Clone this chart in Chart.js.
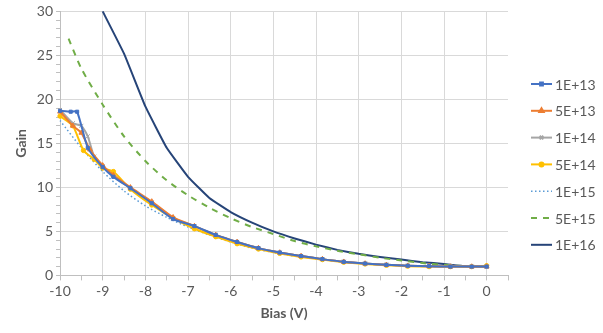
<!DOCTYPE html>
<html><head><meta charset="utf-8">
<script src="https://cdn.jsdelivr.net/npm/chart.js@4.4.0/dist/chart.umd.min.js"></script>
<style>html,body{margin:0;padding:0;background:#fff}#wrap{width:603px;height:333px}</style>
</head><body><div id="wrap"><canvas id="c" width="603" height="333"></canvas></div>
<script>
// Series labels
const seriesNames = ["1E+13","5E+13","1E+14","5E+14","1E+15","5E+15","1E+16"];
// Bias (V) samples and gain values per series
const bias13 = [-10,-9.75,-9.6,-9.35,-9,-8.75,-8.35,-7.85,-7.35,-6.85,-6.35,-5.85,-5.35,-4.85,-4.35,-3.85,-3.35,-2.85,-2.35,-1.85,-1.35,-0.85,-0.35,0];
const gain13 = [18.7,18.6,18.6,14.5,12.3,11.2,9.9,8.2,6.4,5.6,4.6,3.8,3.1,2.6,2.2,1.85,1.55,1.35,1.2,1.1,1.05,1.0,1.0,1.0];
const bias5e13 = [-10,-9.7,-9.5,-9.3,-9,-8.75,-8.35,-7.85,-7.35,-6.85,-6.35,-5.85,-5.35,-4.85,-4.35,-3.85,-3.35,-2.85,-2.35,-1.85,-1.35,-0.85,-0.35,0];
const gain5e13 = [18.6,17.0,16.2,14.3,12.5,11.4,10.0,8.4,6.6,5.6,4.6,3.8,3.1,2.6,2.2,1.85,1.55,1.35,1.2,1.1,1.05,1.0,1.0,1.0];
const bias14 = [-10,-9.7,-9.5,-9.35,-9.2,-9,-8.75,-8.35,-7.85,-7.35,-6.85,-6.35,-5.85,-5.35,-4.85,-4.35,-3.85,-3.35,-2.85,-2.35,-1.85,-1.35,-0.85,-0.35,0];
const gain14 = [18.8,17.3,17.0,15.8,13.5,12.4,11.3,9.9,8.3,6.5,5.6,4.6,3.8,3.1,2.6,2.2,1.85,1.55,1.35,1.2,1.1,1.05,1.0,1.0,1.0];
const bias5e14 = [-10,-9.7,-9.45,-9.2,-9,-8.75,-8.35,-7.85,-7.35,-6.85,-6.35,-5.85,-5.35,-4.85,-4.35,-3.85,-3.35,-2.85,-2.35,-1.85,-1.35,-0.85,-0.35,0];
const gain5e14 = [18.1,17.0,14.2,13.2,12.2,11.8,9.8,8.0,6.5,5.3,4.4,3.6,3.0,2.5,2.1,1.8,1.5,1.3,1.15,1.05,1.0,1.0,1.0,1.1];
const bias15 = [-10,-9.5,-9,-8.5,-8,-7.5,-7,-6.5,-6,-5.5,-5,-4.5,-4,-3.5,-3,-2.5,-2,-1.5,-1,-0.5,0];
const gain15 = [17.6,14.5,11.8,9.6,7.9,6.6,5.5,4.6,3.8,3.1,2.6,2.2,1.9,1.6,1.4,1.25,1.15,1.05,1.0,1.0,1.0];
const bias5e15 = [-9.8,-9.5,-9,-8.5,-8,-7.5,-7,-6.5,-6,-5.5,-5,-4.5,-4,-3.5,-3,-2.5,-2,-1.5,-1,-0.5,0];
const gain5e15 = [26.9,23.5,19.4,15.8,13.0,10.8,9.1,7.7,6.5,5.5,4.7,3.9,3.3,2.8,2.4,2.0,1.7,1.4,1.2,1.05,1.0];
const bias16 = [-9,-8.5,-8,-7.5,-7,-6.5,-6,-5.5,-5,-4.5,-4,-3.5,-3,-2.5,-2,-1.5,-1,-0.5,0];
const gain16 = [30,25.2,19.2,14.5,11.2,8.8,7.2,6.0,5.0,4.2,3.5,2.9,2.45,2.1,1.8,1.5,1.3,1.05,1.0];
// Axis tick labels
const xTickLabels = [-10,-9,-8,-7,-6,-5,-4,-3,-2,-1,0];
const yTickLabels = [0,5,10,15,20,25,30];

const pts = (xs, ys) => xs.map((x,i)=>({x:x,y:ys[i]}));
const FONT = "Lato, 'Open Sans', sans-serif";
const styles = [
  {c:'#4472C4', ps:'rect', r:2.2, dash:[], w:2, t:0.2},
  {c:'#ED7D31', ps:'triangle', r:2.8, dash:[], w:2, t:0.2},
  {c:'#A5A5A5', ps:'crossRot', r:2.8, dash:[], w:2, t:0.2},
  {c:'#FFC000', ps:'circle', r:2.2, dash:[], w:2, t:0.2},
  {c:'#5B9BD5', ps:false, r:0, dash:[1.5,2.5], w:1.5, t:0.25},
  {c:'#70AD47', ps:false, r:0, dash:[6,6], w:2, t:0.25},
  {c:'#264478', ps:false, r:0, dash:[], w:2, t:0.1}
];
const dataArr = [pts(bias13,gain13),pts(bias5e13,gain5e13),pts(bias14,gain14),pts(bias5e14,gain5e14),pts(bias15,gain15),pts(bias5e15,gain5e15),pts(bias16,gain16)];
const datasets = seriesNames.map((n,i)=>({
  label:n, data:dataArr[i], borderColor:styles[i].c, backgroundColor:styles[i].c,
  borderWidth:styles[i].w, borderDash:styles[i].dash, pointStyle:styles[i].ps||'circle',
  pointRadius:styles[i].r, pointBorderWidth:1, pointBackgroundColor:styles[i].c, pointBorderColor:styles[i].c,
  tension:styles[i].t, fill:false, clip:false
}));

const legendPlugin = {
  id:'customLegend',
  afterDraw(chart){
    const ctx = chart.ctx;
    const x0 = 531, x1 = 552, y0 = 84, dy = 26.8;
    chart.data.datasets.forEach((ds,i)=>{
      const y = y0 + i*dy;
      const s = styles[i];
      ctx.save();
      ctx.strokeStyle = s.c; ctx.lineWidth = s.w; ctx.setLineDash(s.dash);
      ctx.beginPath(); ctx.moveTo(x0,y); ctx.lineTo(x1,y); ctx.stroke();
      ctx.setLineDash([]);
      if (s.ps) {
        Chart.helpers.drawPoint(ctx, {pointStyle:s.ps, radius:s.r*0.9, borderWidth:1}, (x0+x1)/2, y);
        ctx.fillStyle = s.c;
        if (s.ps!=='crossRot') ctx.fill();
      }
      ctx.fillStyle = '#595959'; ctx.font = "14px " + FONT; ctx.textBaseline='middle'; ctx.textAlign='left';
      ctx.fillText(ds.label, x1+3, y+1);
      ctx.restore();
    });
  }
};

new Chart(document.getElementById('c'), {
  type:'line',
  data:{datasets},
  options:{
    responsive:false, animation:false,
    layout:{padding:{left:9,right:95,top:10,bottom:11}},
    plugins:{legend:{display:false}, tooltip:{enabled:false}},
    scales:{
      x:{type:'linear', min:-10, max:0.5,
        border:{color:'#BFBFBF'},
        grid:{color:(c)=> (c.tick && xTickLabels.includes(c.tick.value)) ? '#D9D9D9' : 'rgba(0,0,0,0)',
              tickColor:'#BFBFBF', tickLength:5, drawTicks:true},
        ticks:{stepSize:0.5, autoSkip:false, maxRotation:0, color:'#595959', font:{family:FONT,size:14}, padding:3,
          callback:(v)=> xTickLabels.includes(v) ? String(v) : ''},
        title:{display:true, text:'Bias (V)', color:'#595959', font:{family:FONT,size:14,weight:'bold'}, padding:{top:2,bottom:0}}
      },
      y:{min:0, max:30,
        border:{color:'#BFBFBF'},
        grid:{color:(c)=> (c.tick && yTickLabels.includes(c.tick.value)) ? '#D9D9D9' : 'rgba(0,0,0,0)',
              tickColor:'#BFBFBF', tickLength:4},
        ticks:{stepSize:1, autoSkip:false, color:'#595959', font:{family:FONT,size:14}, padding:3,
          callback:(v)=> yTickLabels.includes(v) ? String(v) : ''},
        title:{display:true, text:'Gain', color:'#595959', font:{family:FONT,size:14,weight:'bold'}, padding:{bottom:4}}
      }
    }
  },
  plugins:[legendPlugin]
});
</script></body></html>
